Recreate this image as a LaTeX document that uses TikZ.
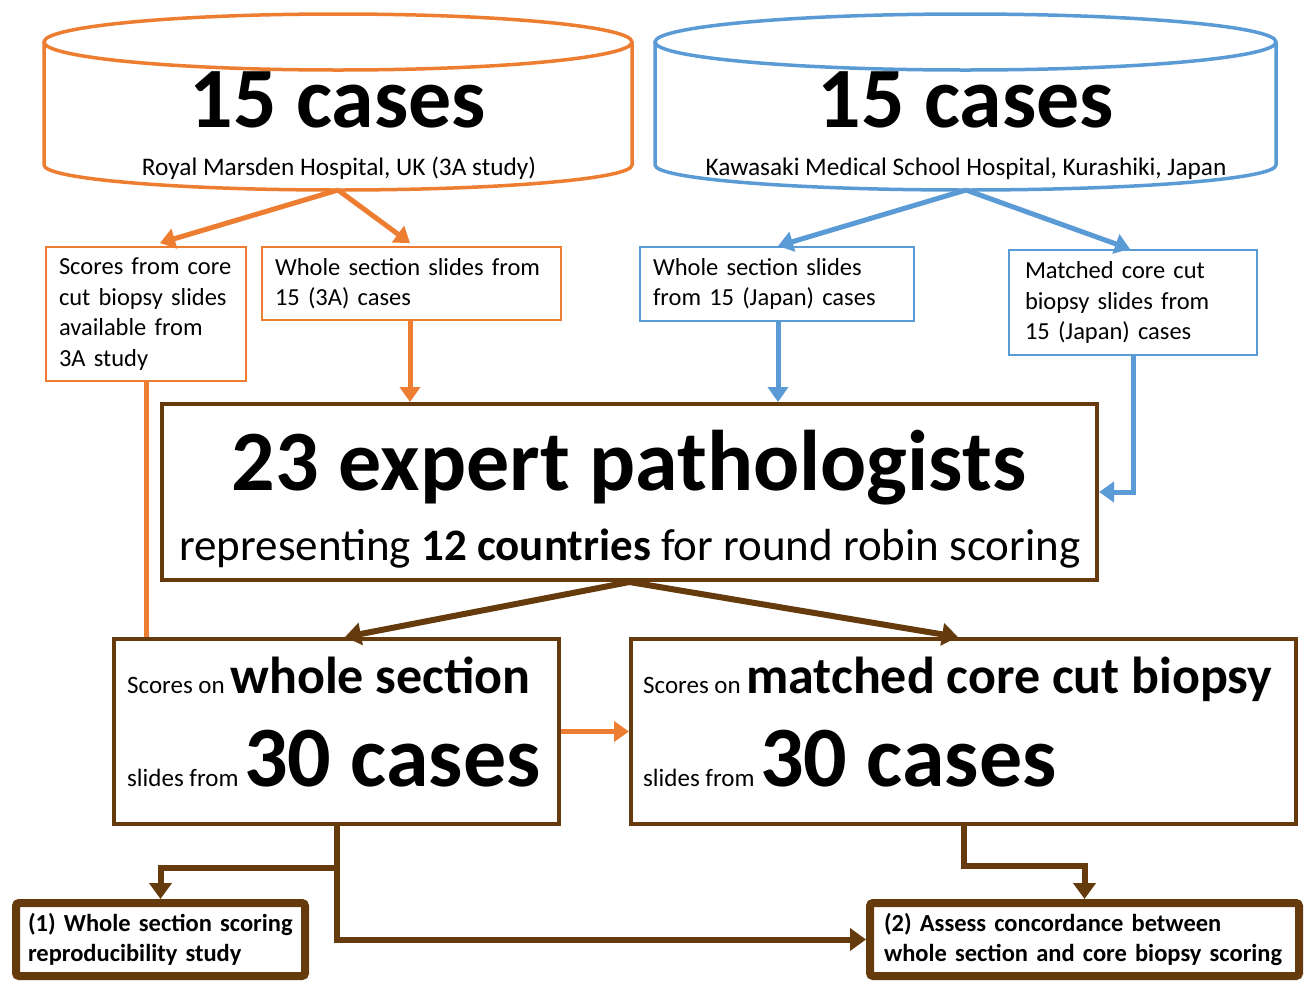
\documentclass[tikz,border=0pt]{standalone}
\usepackage{fontspec}
\setmainfont{Carlito}
\usetikzlibrary{arrows.meta}
\definecolor{org}{HTML}{ED7D31}
\definecolor{blu}{HTML}{5B9BD5}
\definecolor{brn}{HTML}{653A0C}
\begin{document}
\begin{tikzpicture}[x=1pt,y=-1pt,
  thinbox/.style={draw, line width=1.2pt, inner xsep=13pt, inner ysep=0pt, align=left,
     font=\fontsize{24.5}{30.5}\selectfont},
  bigbox/.style={draw=brn, line width=4pt, inner sep=0pt},
  outbox/.style={draw=brn, line width=8pt, rounded corners=3pt, inner ysep=0pt, align=left,
     font=\bfseries\fontsize{24.5}{30}\selectfont},
  txt/.style={inner sep=0pt},
  oarrow/.style={draw=org, line width=5pt, -{Triangle[length=15pt,width=20pt]}},
  barrow/.style={draw=blu, line width=5pt, -{Triangle[length=15pt,width=20pt]}},
  brarrow/.style={draw=brn, line width=6pt, -{Triangle[length=16pt,width=22pt]}},
]
\useasboundingbox (0,0) rectangle (1308,986);
\def\huge{\bfseries\fontsize{86}{86}\selectfont}
\def\sm{\fontsize{25}{26}\selectfont}
% orange cylinder
\draw[org, line width=3.5pt] (338,42) ellipse [x radius=294pt, y radius=28pt];
\draw[org, line width=3.5pt] (44,42) -- (44,165) arc[start angle=180, end angle=360, x radius=294pt, y radius=25pt] -- (632,42);
\node[txt, anchor=base] (ocas) at (338,127) {\huge 15 cases};
\node[txt, anchor=base] (olab) at (339,175) {\fontsize{25.3}{26}\selectfont Royal Marsden Hospital, UK (3A study)};
\coordinate (obot) at (338,190);
% blue cylinder
\draw[blu, line width=3.5pt] (965.5,42) ellipse [x radius=310.5pt, y radius=28pt];
\draw[blu, line width=3.5pt] (655,42) -- (655,165) arc[start angle=180, end angle=360, x radius=310.5pt, y radius=25pt] -- (1276,42);
\node[txt, anchor=base] (bcas) at (966,127) {\huge 15 cases};
\node[txt, anchor=base] (blab) at (966,175) {\fontsize{25.3}{26}\selectfont Kawasaki Medical School Hospital, Kurashiki, Japan};
\coordinate (bbot) at (966,190);
% small boxes
\node[thinbox, draw=org, minimum width=200pt, minimum height=134pt, text width=174pt] (A) at (146,314)
  {Scores from core\\cut biopsy slides\\available from\\3A study};
\node[thinbox, draw=org, minimum width=299pt, minimum height=73pt, text width=273pt] (B) at (411.5,283.5)
  {Whole section slides from\\15 (3A) cases};
\node[thinbox, draw=blu, minimum width=274pt, minimum height=74pt, text width=248pt] (C) at (777,284)
  {Whole section slides\\from 15 (Japan) cases};
\node[thinbox, draw=blu, minimum width=242pt, minimum height=105pt, text width=216pt, inner xsep=16pt] (D) at (1133,302.5)
  {Matched core cut\\biopsy slides from\\15 (Japan) cases};
% main box
\node[bigbox, minimum width=935pt, minimum height=176pt] (M) at (629.5,492) {};
\node[txt, anchor=base] (m1) at (629,490) {\bfseries\fontsize{86}{86}\selectfont 23 expert pathologists};
\node[txt, anchor=base] (m2) at (630,560) {\fontsize{45}{46}\selectfont representing \textbf{12 countries} for round robin scoring};
% score boxes
\node[bigbox, minimum width=445pt, minimum height=185pt] (W) at (336.5,731.5) {};
\node[txt, anchor=base west] (w1) at (127,693) {\sm Scores on \bfseries\fontsize{52}{52}\selectfont whole section};
\node[txt, anchor=base west] (w2) at (127,786) {\sm slides from \huge 30 cases};
\node[bigbox, minimum width=665pt, minimum height=185pt] (X) at (963.5,731.5) {};
\node[txt, anchor=base west] (x1) at (643,693) {\sm Scores on \bfseries\fontsize{52}{52}\selectfont matched core cut biopsy};
\node[txt, anchor=base west] (x2) at (643,786) {\sm slides from \huge 30 cases};
% outcome boxes
\node[outbox, minimum width=289pt, minimum height=73pt, text width=265pt, inner xsep=12pt] (O1) at (160.5,939.5)
  {(1) Whole section scoring\\reproducibility study};
\node[outbox, minimum width=429pt, minimum height=73pt, text width=401pt, inner xsep=14pt] (O2) at (1084.5,939.5)
  {(2) Assess concordance between\\whole section and core biopsy scoring};
% connectors
\draw[oarrow] (obot) -- (160,243);
\draw[oarrow] (obot) -- (410,243);
\draw[barrow] (bbot) -- (778,246);
\draw[barrow] (bbot) -- (1130,249);
\draw[oarrow] (B.south -| 410,0) -- (M.north -| 410,0);
\draw[barrow] (C.south -| 778,0) -- (M.north -| 778,0);
\draw[barrow] (D.south) |- (M.east);
\draw[draw=org, line width=5pt] (A.south) -- (A.south |- W.north);
\draw[brarrow] (M.south) -- (345,637);
\draw[brarrow] (M.south) -- (958,637);
\draw[oarrow] (W.east) -- (X.west);
\coordinate (j1) at (336.5,868);
\draw[brarrow] (W.south) -- (j1) -| (O1.north);
\draw[brarrow] (j1) |- (O2.west);
\draw[brarrow] (X.south) -- ++(0,40) -| (O2.north);
\end{tikzpicture}
\end{document}
